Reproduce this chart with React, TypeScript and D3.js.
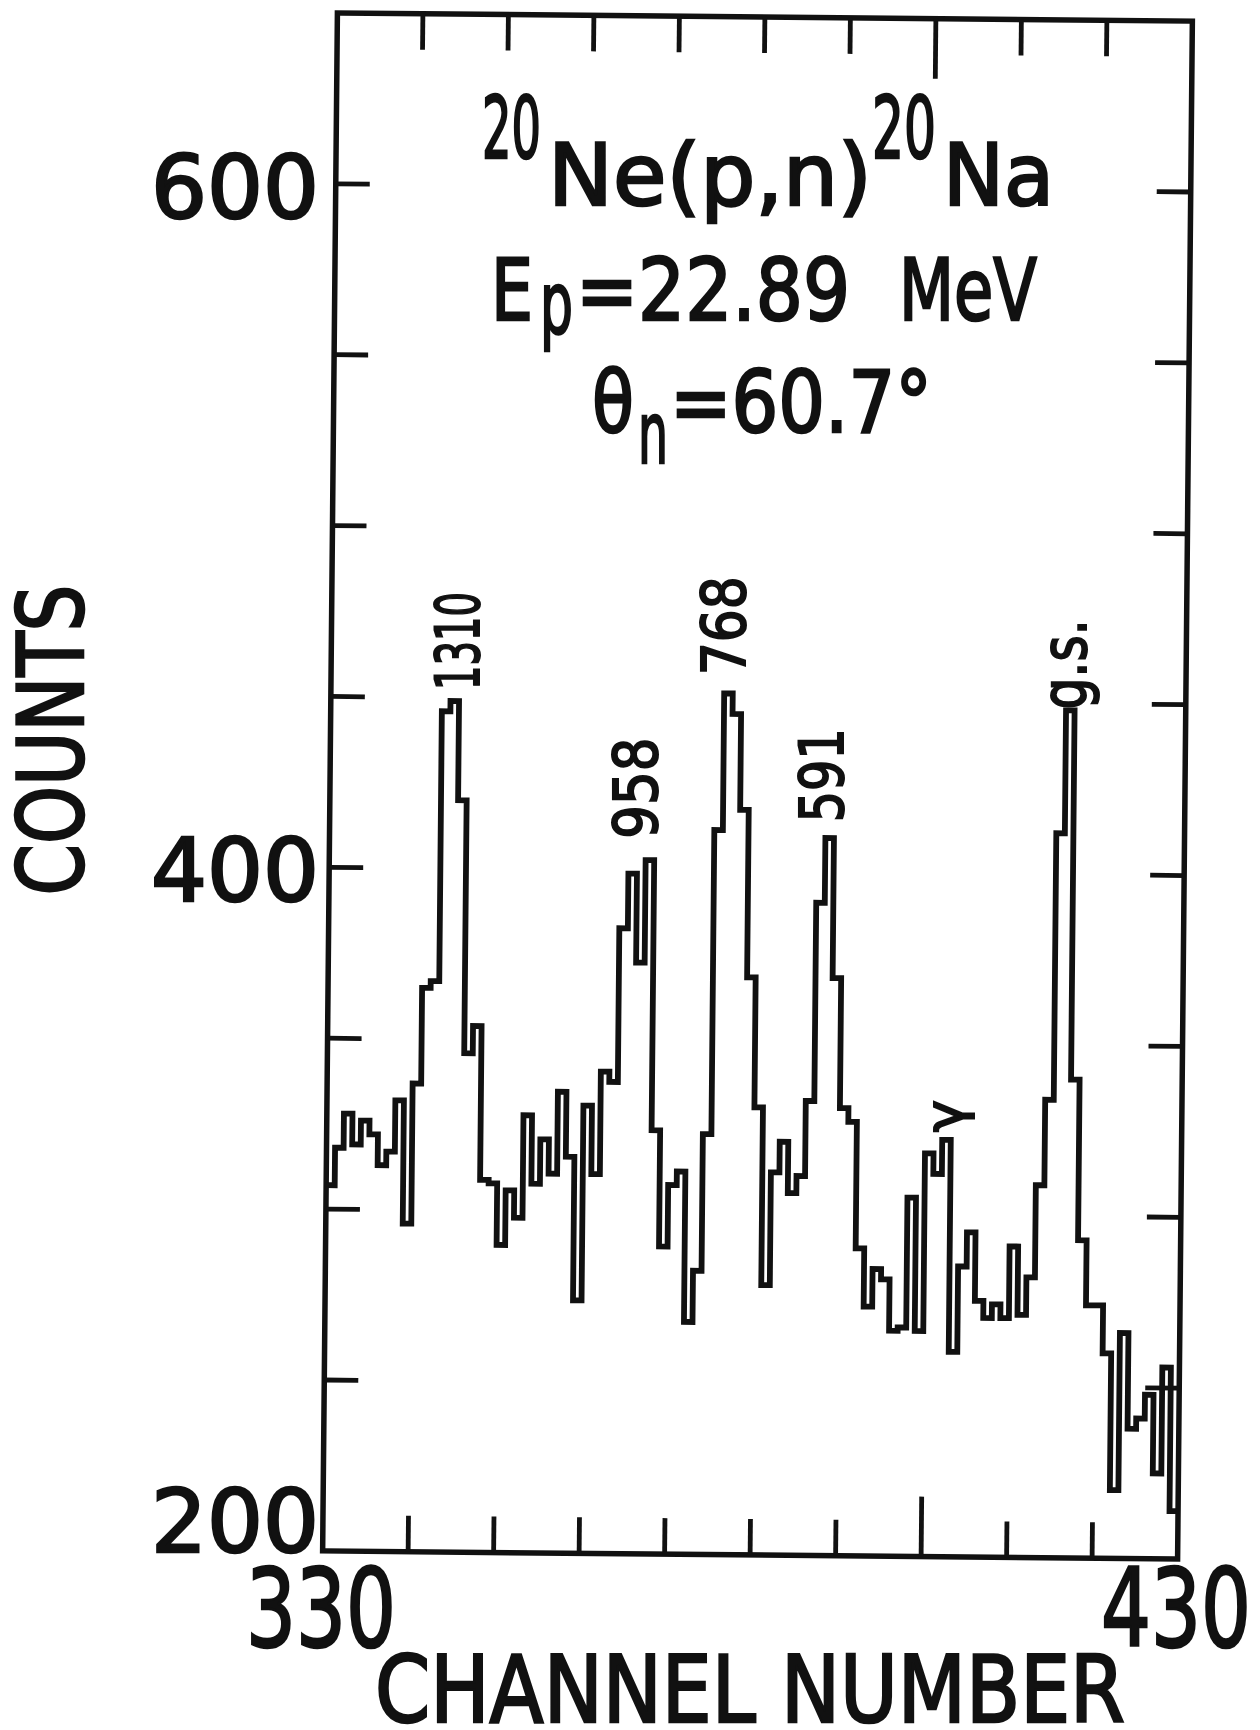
import React from "react";
import * as d3 from "d3";

// 20Ne(p,n)20Na neutron time-of-flight spectrum, one count per channel
const firstChannel = 330;
const counts = [
  307, 318, 328, 319, 326, 322, 313, 317, 332, 296,
  337, 365, 367, 446, 449, 420, 346, 354, 309, 308,
  290, 306, 298, 328, 308, 321, 311, 335, 316, 274,
  331, 311, 341, 338, 383, 399, 373, 403, 324, 290,
  308, 312, 268, 283, 323, 412, 452, 446, 418, 369,
  331, 279, 312, 321, 306, 311, 333, 391, 410, 369,
  331, 327, 290, 273, 284, 281, 266, 267, 305, 266,
  318, 312, 322, 260, 285, 295, 275, 270, 274, 270,
  291, 271, 282, 309, 334, 412, 448, 340, 293, 274,
  274, 260, 220, 266, 238, 241, 248, 225, 256, 214,
];

const xTickValues = [340, 350, 360, 370, 380, 390, 400, 410, 420];
const yTickValues = [250, 300, 350, 400, 450, 500, 550, 600];
const xLabelValues = [330, 430];
const yLabelValues = [600, 400, 200];

const peakNames = ["1310", "958", "768", "591", "γ", "g.s."];
const peakChannels = [344, 367, 376, 388, 402, 416];

// layout
const W = 1260;
const H = 1730;
const left = 330;
const right = 1185;
const top = 17;
const bottom = 1555;
const tilt = 0.55; // scanned page sits a little crooked
const font = "'DejaVu Sans', sans-serif";
const ink = "#111";

// label placement relative to the peak: [dx, dy, length, size]
const peakOffsets = [
  [0, -63, 98, 60],
  [-19, -73, 101, 60],
  [-8, -68, 99, 60],
  [-12, -62, 94, 60],
  [-10, -22, 0, 54],
  [-9, -43, 90, 62],
];

const x = d3.scaleLinear().domain([330, 430]).range([left, right]);
const y = d3.scaleLinear().domain([200, 650]).range([bottom, top]);

const fit = { lengthAdjust: "spacingAndGlyphs" } as const;

export default function App() {
  const pts: [number, number][] = counts.map((c, i) => [firstChannel + i, c]);
  pts.push([firstChannel + counts.length, counts[counts.length - 1]]);
  const path = d3
    .line<[number, number]>()
    .x((d) => x(d[0]))
    .y((d) => y(d[1]))
    .curve(d3.curveStepAfter)(pts);

  const cx = (left + right) / 2;
  const cy = (top + bottom) / 2;

  return (
    <svg
      width={W}
      height={H}
      style={{ position: "absolute", left: 0, top: 0, background: "#fff" }}
    >
      <rect width={W} height={H} fill="#fff" />
      <g transform={`rotate(${tilt}, ${cx}, ${cy})`} stroke={ink} fill="none">
        <rect
          x={left}
          y={top}
          width={right - left}
          height={bottom - top}
          strokeWidth={5.5}
        />
        {yTickValues.map((v) => (
          <g key={v} strokeWidth={4.8}>
            <line x1={left} x2={left + 34} y1={y(v)} y2={y(v)} />
            <line x1={right} x2={right - 34} y1={y(v)} y2={y(v)} />
          </g>
        ))}
        {xTickValues.map((v) => {
          const len = v === 400 ? 60 : 36;
          return (
            <g key={v} strokeWidth={4.8}>
              <line x1={x(v)} x2={x(v)} y1={bottom} y2={bottom - len} />
              <line x1={x(v)} x2={x(v)} y1={top} y2={top + len} />
            </g>
          );
        })}
        <path d={path || ""} strokeWidth={5.8} strokeLinejoin="miter" />
      </g>

      <g fill={ink} stroke={ink} strokeWidth={2.6} fontFamily={font}>
        {yLabelValues.map((v) => (
          <text
            key={v}
            x={151}
            y={v === 200 ? y(v) - 3 : y(v) + 30}
            fontSize={88}
            textLength={168}
            {...fit}
          >
            {v}
          </text>
        ))}
        {xLabelValues.map((v) => (
          <text
            key={v}
            x={x(v) - 9}
            y={1646}
            fontSize={108}
            textAnchor="middle"
            textLength={150}
            {...fit}
          >
            {v}
          </text>
        ))}
        <text
          x={750}
          y={1722}
          fontSize={92}
          textAnchor="middle"
          textLength={750}
          {...fit}
        >
          CHANNEL NUMBER
        </text>
        <text
          transform="translate(83, 740) rotate(-90)"
          fontSize={90}
          textAnchor="middle"
          textLength={311}
          {...fit}
        >
          COUNTS
        </text>

        {/* reaction and kinematics */}
        <g fontSize={86}>
          <text>
            <tspan x={482} y={158} textLength={59} {...fit}>20</tspan>
            <tspan x={548} y={205} textLength={324} {...fit}>Ne(p,n)</tspan>
            <tspan x={872} y={158} textLength={64} {...fit}>20</tspan>
            <tspan x={943} y={205} textLength={111} {...fit}>Na</tspan>
          </text>
          <text>
            <tspan x={491} y={320} textLength={42} {...fit}>E</tspan>
            <tspan x={540} y={333} textLength={33} {...fit}>p</tspan>
            <tspan x={576} y={320} textLength={274} {...fit}>=22.89</tspan>
            <tspan x={899} y={320} textLength={138} {...fit}>MeV</tspan>
          </text>
          <text>
            <tspan x={592} y={432} textLength={42} {...fit}>θ</tspan>
            <tspan x={638} y={463} textLength={30} {...fit}>n</tspan>
            <tspan x={670} y={432} textLength={262} {...fit}>=60.7°</tspan>
          </text>
        </g>

        {peakNames.map((name, i) => {
          const ch = peakChannels[i];
          const [dx, dy, len, size] = peakOffsets[i];
          const px = x(ch + 1) + dx;
          const py = y(counts[ch - firstChannel]) + dy;
          return (
            <text
              key={name}
              transform={`translate(${px}, ${py}) rotate(-90)`}
              fontSize={size}
              strokeWidth={2}
              textAnchor="middle"
              dominantBaseline="central"
              textLength={len || undefined}
              lengthAdjust={len ? "spacingAndGlyphs" : undefined}
            >
              {name}
            </text>
          );
        })}
      </g>
    </svg>
  );
}
